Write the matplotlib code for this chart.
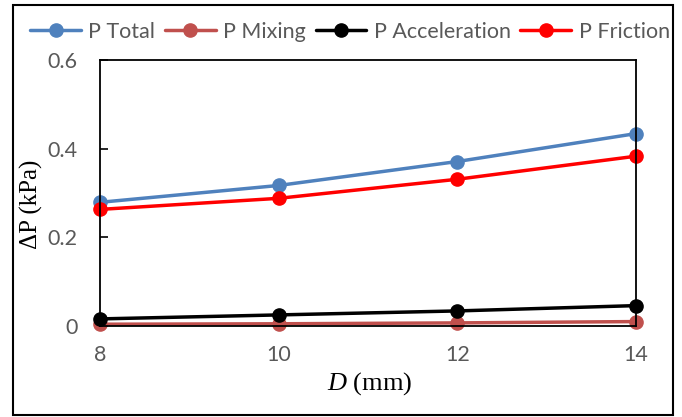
import matplotlib
matplotlib.use("Agg")
import matplotlib.pyplot as plt
from matplotlib.patches import Rectangle

plt.rcParams["mathtext.fontset"] = "custom"
plt.rcParams["mathtext.it"] = "Liberation Serif:italic"
plt.rcParams["mathtext.rm"] = "Liberation Serif"

D = [8, 10, 12, 14]
p_total = [0.279, 0.317, 0.371, 0.434]
p_mixing = [0.004, 0.005, 0.007, 0.010]
p_acceleration = [0.016, 0.025, 0.034, 0.046]
p_friction = [0.263, 0.288, 0.331, 0.383]
series_names = ["P Total", "P Mixing", "P Acceleration", "P Friction"]
x_ticks = [8, 10, 12, 14]
y_ticks = [0, 0.2, 0.4, 0.6]
y_tick_labels = ["0", "0.2", "0.4", "0.6"]

colors = ["#4F81BD", "#C0504D", "#000000", "#FF0000"]

fig = plt.figure(figsize=(6.82, 4.17), dpi=100)
ax = fig.add_axes([100/682, 1-326/417, 536/682, 266/417])

for vals, name, c in zip([p_total, p_mixing, p_acceleration, p_friction], series_names, colors):
    ax.plot(D, vals, color=c, lw=2.5, marker="o", ms=9.5, label=name, clip_on=False, solid_capstyle="round")

ax.set_xlim(8, 14)
ax.set_ylim(0, 0.6)
ax.set_xticks(x_ticks)
ax.set_yticks(y_ticks)
ax.set_yticklabels(y_tick_labels)
tick_font = "Lato"
for lab in ax.get_xticklabels() + ax.get_yticklabels():
    lab.set_fontfamily(tick_font)
    lab.set_fontsize(15.5)
    lab.set_color("#595959")
ax.tick_params(axis="y", direction="in", length=6, width=1.2, pad=16)
ax.tick_params(axis="x", length=0, pad=14)
for s in ax.spines.values():
    s.set_linewidth(1.3)
    s.set_color("black")

ax.set_ylabel("ΔP (kPa)", family="Liberation Serif", fontsize=18, color="black")
ax.yaxis.set_label_coords(-57/536, (326-204)/266)
ax.set_xlabel("$\\mathit{D}$ (mm)", family="Liberation Serif", fontsize=19, color="black")
ax.xaxis.set_label_coords((370-100)/536, -(370-326)/266)

leg = fig.legend(loc="center", bbox_to_anchor=(350/682, 1-32/417), ncol=4, frameon=False,
                 handlelength=2.35, columnspacing=0.45, handletextpad=0.35,
                 prop={"family": tick_font, "size": 15.5})
for t in leg.get_texts():
    t.set_color("#595959")

fig.patches.append(Rectangle((13/682, 1-415/417), 660/682, 410/417, transform=fig.transFigure,
                             fill=False, edgecolor="black", linewidth=1.5))

fig.savefig("out.png", dpi=100)
